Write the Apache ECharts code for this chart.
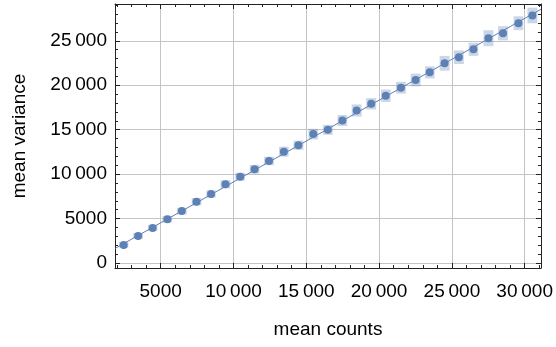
<!DOCTYPE html>
<html>
<head>
<meta charset="utf-8">
<script src="https://cdn.jsdelivr.net/npm/echarts@6/dist/echarts.min.js"></script>
<style>
  html, body { margin: 0; padding: 0; background: #fff; }
  #chart { width: 556px; height: 347px; }
</style>
</head>
<body>
<div id="chart"></div>
<script>
// values
var meanCounts = [2460, 3450, 4450, 5460, 6450, 7460, 8460, 9450, 10460, 11450,
  12440, 13460, 14460, 15480, 16480, 17480, 18460, 19460, 20460, 21500,
  22510, 23480, 24500, 25480, 26480, 27510, 28510, 29570, 30530];
var meanVariance = [2030, 3050, 3950, 4930, 5840, 6890, 7760, 8850, 9710, 10550,
  11480, 12530, 13250, 14500, 14980, 16030, 17160, 17920, 18820, 19720,
  20590, 21450, 22470, 23150, 24050, 25290, 25850, 26980, 27850];
// half sizes of the uncertainty boxes
var countsErr = [320, 330, 320, 330, 340, 330, 320, 340, 330, 330,
  340, 330, 340, 330, 340, 330, 340, 340, 330, 340,
  340, 330, 340, 340, 330, 340, 340, 330, 340];
var varianceErr = [320, 340, 350, 380, 370, 420, 400, 460, 440, 490,
  480, 560, 520, 600, 560, 620, 680, 640, 700, 660,
  720, 680, 830, 760, 740, 900, 800, 780, 880];
// linear fit: [intercept, slope]
var fitParams = [-80, 0.92];

var xRange = [1863, 31119];
var yRange = [-564, 29142];
var xMajor = [5000, 10000, 15000, 20000, 25000, 30000];
var yMajor = [0, 5000, 10000, 15000, 20000, 25000];
var xMinor = [2000, 3000, 4000, 6000, 7000, 8000, 9000, 11000, 12000, 13000, 14000,
  16000, 17000, 18000, 19000, 21000, 22000, 23000, 24000, 26000, 27000, 28000, 29000, 31000];
var yMinor = [1000, 2000, 3000, 4000, 6000, 7000, 8000, 9000, 11000, 12000, 13000, 14000,
  16000, 17000, 18000, 19000, 21000, 22000, 23000, 24000, 26000, 27000, 28000, 29000];

var FONT = 'Liberation Sans';
var FSIZE = 19;
var BLUE = '#5e81b5';
var FRAME = '#222';

function fmt(v) {
  var s = String(v);
  if (v >= 10000) {
    s = s.replace(/(\d)(?=(\d{3})+$)/g, '$1\u2009');
  }
  return s;
}

function frameAxis(pos, range, major, minor, withLabels, name, gap) {
  var main = {
    type: 'value',
    position: pos,
    min: range[0],
    max: range[1],
    axisLine: { show: true, onZero: false, lineStyle: { color: FRAME, width: 1 } },
    axisTick: { show: true, inside: true, length: 5, customValues: major, lineStyle: { color: FRAME } },
    axisLabel: {
      show: withLabels,
      customValues: major,
      formatter: fmt,
      color: '#000',
      fontFamily: FONT,
      fontSize: FSIZE,
      margin: pos === 'left' ? 8 : 14
    },
    splitLine: { show: withLabels, lineStyle: { color: '#c4c4c4', width: 1 } }
  };
  if (name) {
    main.name = name;
    main.nameLocation = 'middle';
    main.nameGap = gap;
    main.nameTextStyle = { color: '#000', fontFamily: FONT, fontSize: FSIZE };
  }
  var minorAxis = {
    type: 'value',
    position: pos,
    min: range[0],
    max: range[1],
    axisLine: { show: false, onZero: false },
    axisTick: { show: true, inside: true, length: 3, customValues: minor, lineStyle: { color: FRAME } },
    axisLabel: { show: false },
    splitLine: { show: false }
  };
  return [main, minorAxis];
}

var xAxes = frameAxis('bottom', xRange, xMajor, xMinor, true, 'mean counts', 52)
  .concat(frameAxis('top', xRange, xMajor, xMinor, false));
var yAxes = frameAxis('left', yRange, yMajor, yMinor, true, 'mean variance', 86)
  .concat(frameAxis('right', yRange, yMajor, yMinor, false));

var points = meanCounts.map(function (x, i) { return [x, meanVariance[i]]; });
var boxes = meanCounts.map(function (x, i) {
  return [x, meanVariance[i], countsErr[i], varianceErr[i]];
});
var fitLine = xRange.map(function (x) { return [x, fitParams[0] + fitParams[1] * x]; });

var chart = echarts.init(document.getElementById('chart'), null, { renderer: 'canvas' });

chart.setOption({
  animation: false,
  backgroundColor: '#fff',
  grid: { left: 115, right: 12, top: 4, bottom: 79, containLabel: false },
  xAxis: xAxes,
  yAxis: yAxes,
  series: [
    {
      type: 'custom',
      xAxisIndex: 0,
      yAxisIndex: 0,
      data: boxes,
      renderItem: function (params, api) {
        var x = api.value(0), y = api.value(1), ex = api.value(2), ey = api.value(3);
        var p0 = api.coord([x - ex, y + ey]);
        var p1 = api.coord([x + ex, y - ey]);
        return {
          type: 'rect',
          shape: { x: p0[0], y: p0[1], width: p1[0] - p0[0], height: p1[1] - p0[1] },
          style: { fill: 'rgba(94,129,181,0.32)' }
        };
      },
      z: 1
    },
    {
      type: 'line',
      xAxisIndex: 0,
      yAxisIndex: 0,
      data: fitLine,
      showSymbol: false,
      lineStyle: { color: BLUE, width: 1 },
      z: 2
    },
    {
      type: 'scatter',
      xAxisIndex: 0,
      yAxisIndex: 0,
      data: points,
      symbolSize: 8,
      itemStyle: { color: BLUE, opacity: 1 },
      z: 3
    }
  ]
});
</script>
</body>
</html>
